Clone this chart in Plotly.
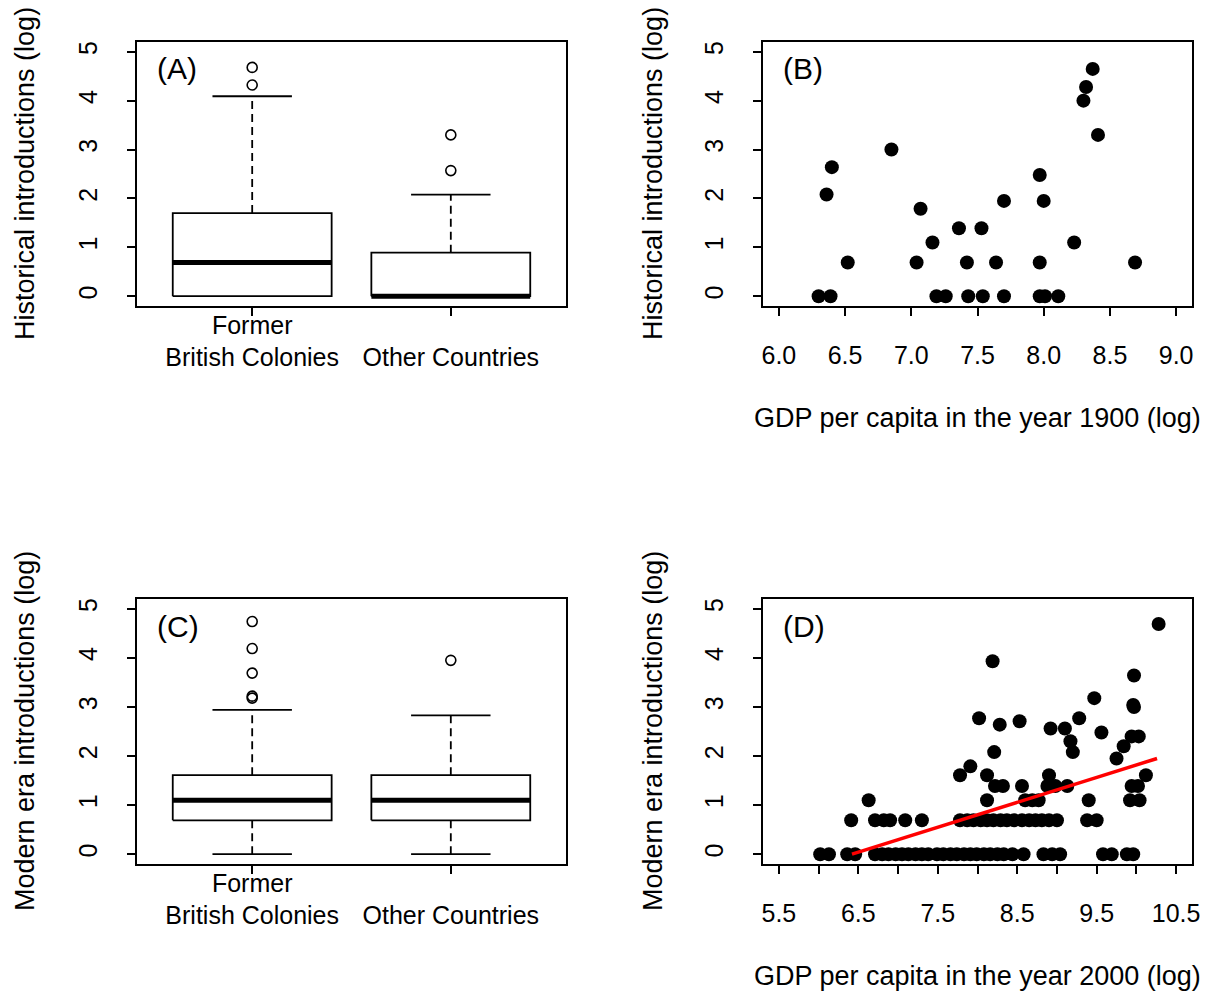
import plotly.graph_objects as go

FONT = "Arial, Liberation Sans, sans-serif"

# ---------------- data ----------------
categories = ["Former\nBritish Colonies", "Other Countries"]

# Panel A: historical introductions (log) boxplot stats
hist_lower = [0.0, 0.0]
hist_q1 = [0.0, 0.0]
hist_median = [0.69, 0.0]
hist_q3 = [1.70, 0.89]
hist_upper = [4.09, 2.08]
hist_outliers = [[4.32, 4.68], [2.57, 3.30]]

# Panel C: modern era introductions (log) boxplot stats
mod_lower = [0.0, 0.0]
mod_q1 = [0.69, 0.69]
mod_median = [1.10, 1.10]
mod_q3 = [1.61, 1.61]
mod_upper = [2.94, 2.83]
mod_outliers = [[3.18, 3.22, 3.69, 4.19, 4.74], [3.95]]

# Panel B: GDP 1900 vs historical introductions
gdp1900 = [6.30, 6.39, 6.36, 6.40, 6.52, 6.85, 7.04, 7.07, 7.16, 7.19, 7.26,
           7.36, 7.42, 7.43, 7.53, 7.54, 7.64, 7.70, 7.70, 7.97, 7.97, 7.97,
           8.00, 8.01, 8.11, 8.23, 8.30, 8.32, 8.37, 8.41, 8.69]
hist_intro = [0.0, 0.0, 2.08, 2.64, 0.69, 3.00, 0.69, 1.79, 1.10, 0.0, 0.0,
              1.39, 0.69, 0.0, 1.39, 0.0, 0.69, 1.95, 0.0, 2.48, 0.69, 0.0,
              1.95, 0.0, 0.0, 1.10, 4.00, 4.28, 4.65, 3.30, 0.69]

# Panel D: GDP 2000 vs modern era introductions
gdp2000 = [6.02, 6.13, 6.36, 6.46, 6.71, 6.80, 6.88, 6.97, 7.05, 7.13, 7.22,
           7.30, 7.38, 7.49, 7.57, 7.66, 7.74, 7.83, 7.91, 7.99, 8.08, 8.16,
           8.25, 8.33, 8.44, 8.58, 8.83, 8.94, 9.04, 9.58, 9.69, 9.88, 9.96,
           6.41, 6.71, 6.82, 6.90, 7.09, 7.30, 7.78, 7.87, 7.95, 8.04, 8.12,
           8.20, 8.29, 8.37, 8.46, 8.56, 8.65, 8.73, 8.81, 8.90, 9.00, 9.38,
           9.50,
           6.63, 8.12, 8.60, 8.69, 8.77, 9.40, 9.92, 10.04,
           8.22, 8.32, 8.56, 8.88, 8.98, 9.13, 9.94, 10.02,
           7.78, 8.12, 8.90, 10.12,
           7.91, 8.21, 9.20, 9.75, 9.84, 9.17, 9.94, 10.03, 9.56, 8.92, 9.10,
           8.28, 8.53, 8.02, 9.28, 9.97, 9.96, 9.47, 9.97, 8.19, 10.28]
modern_intro = [0.0] * 33 + [0.69] * 23 + [1.10] * 8 + [1.39] * 8 + [1.61] * 4 + \
    [1.79, 2.08, 2.08, 1.95, 2.20, 2.30, 2.40, 2.40, 2.48, 2.56, 2.56,
     2.64, 2.71, 2.77, 2.77, 3.00, 3.04, 3.18, 3.64, 3.93, 4.69]

fit_x = [6.42, 10.26]
fit_y = [0.0, 1.95]

y_ticks = [0, 1, 2, 3, 4, 5]
b_ticks = [6.0, 6.5, 7.0, 7.5, 8.0, 8.5, 9.0]
b_ticktext = ["6.0", "6.5", "7.0", "7.5", "8.0", "8.5", "9.0"]
d_ticks = [5.5, 6.0, 6.5, 7.0, 7.5, 8.0, 8.5, 9.0, 9.5, 10.0, 10.5]
d_ticktext = ["5.5", "", "6.5", "", "7.5", "", "8.5", "", "9.5", "", "10.5"]

panel_labels = ["(A)", "(B)", "(C)", "(D)"]
ytitle_top = "Historical introductions (log)"
ytitle_bottom = "Modern era introductions (log)"
xtitle_b = "GDP per capita in the year 1900 (log)"
xtitle_d = "GDP per capita in the year 2000 (log)"

# ---------------- figure ----------------
W, H = 1216, 991
fig = go.Figure()

BOX_HALF = 0.4
STAPLE_HALF = 0.2
LW = 1.8


def add_boxes(xa, ya, lower, q1, med, q3, upper, outliers):
    for i in range(len(q1)):
        c = i + 1
        # whiskers (dashed)
        for a, b in ((q3[i], upper[i]), (lower[i], q1[i])):
            if b != a:
                fig.add_trace(go.Scatter(x=[c, c], y=[a, b], mode="lines",
                                         line=dict(color="black", width=LW, dash="8px,5px"),
                                         xaxis=xa, yaxis=ya, showlegend=False, hoverinfo="skip"))
        # staples
        for v in (upper[i], lower[i]):
            fig.add_trace(go.Scatter(x=[c - STAPLE_HALF, c + STAPLE_HALF], y=[v, v], mode="lines",
                                     line=dict(color="black", width=LW),
                                     xaxis=xa, yaxis=ya, showlegend=False, hoverinfo="skip"))
        # box
        fig.add_trace(go.Scatter(x=[c - BOX_HALF, c + BOX_HALF, c + BOX_HALF, c - BOX_HALF, c - BOX_HALF],
                                 y=[q1[i], q1[i], q3[i], q3[i], q1[i]], mode="lines",
                                 fill="toself", fillcolor="white",
                                 line=dict(color="black", width=LW),
                                 xaxis=xa, yaxis=ya, showlegend=False, hoverinfo="skip"))
        # median
        fig.add_trace(go.Scatter(x=[c - BOX_HALF, c + BOX_HALF], y=[med[i], med[i]], mode="lines",
                                 line=dict(color="black", width=5),
                                 xaxis=xa, yaxis=ya, showlegend=False, hoverinfo="skip"))
        # outliers
        fig.add_trace(go.Scatter(x=[c] * len(outliers[i]), y=outliers[i], mode="markers",
                                 marker=dict(symbol="circle-open", size=10, color="black",
                                             line=dict(width=1.6, color="black")),
                                 xaxis=xa, yaxis=ya, showlegend=False, hoverinfo="skip"))


add_boxes("x", "y", hist_lower, hist_q1, hist_median, hist_q3, hist_upper, hist_outliers)
add_boxes("x3", "y3", mod_lower, mod_q1, mod_median, mod_q3, mod_upper, mod_outliers)

fig.add_trace(go.Scatter(x=gdp1900, y=hist_intro, mode="markers",
                         marker=dict(size=14, color="black"), xaxis="x2", yaxis="y2",
                         showlegend=False))
fig.add_trace(go.Scatter(x=gdp2000, y=modern_intro, mode="markers",
                         marker=dict(size=14, color="black"), xaxis="x4", yaxis="y4",
                         showlegend=False))
fig.add_trace(go.Scatter(x=fit_x, y=fit_y, mode="lines",
                         line=dict(color="#ff0000", width=3.5), xaxis="x4", yaxis="y4",
                         showlegend=False))


def px_x(p):
    return p / W


def px_y(p):
    return 1 - p / H


common = dict(showline=True, mirror=True, linecolor="black", linewidth=1.8,
              ticks="outside", ticklen=8, tickwidth=1.5, tickcolor="black",
              showgrid=False, zeroline=False, automargin=False,
              tickfont=dict(family=FONT, size=25, color="black"))

dom_left = [px_x(137), px_x(566)]
dom_right = [px_x(763), px_x(1192)]
dom_top = [px_y(306), px_y(42)]
dom_bot = [px_y(864), px_y(599)]

cat_text = [c.replace("\n", "<br>") for c in categories]
cat_text = [t if "<br>" in t else "<br>" + t for t in cat_text]

yax = dict(common, range=[-0.2, 5.2], tickvals=y_ticks, ticktext=[str(v) for v in y_ticks],
           tickangle=-90, ticklabelstandoff=20)

fig.update_layout(
    template="none",
    width=W, height=H, autosize=False, margin=dict(l=0, r=0, t=0, b=0, pad=0),
    paper_bgcolor="white", plot_bgcolor="white", showlegend=False,
    xaxis=dict(common, domain=dom_left, anchor="y", range=[0.42, 2.58],
               tickvals=[1, 2], ticktext=cat_text, ticklabelstandoff=-12),
    yaxis=dict(yax, domain=dom_top, anchor="x"),
    xaxis2=dict(common, domain=dom_right, anchor="y2", range=[5.88, 9.12],
                tickvals=b_ticks, ticktext=b_ticktext, ticklabelstandoff=18),
    yaxis2=dict(yax, domain=dom_top, anchor="x2"),
    xaxis3=dict(common, domain=dom_left, anchor="y3", range=[0.42, 2.58],
                tickvals=[1, 2], ticktext=cat_text, ticklabelstandoff=-12),
    yaxis3=dict(yax, domain=dom_bot, anchor="x3"),
    xaxis4=dict(common, domain=dom_right, anchor="y4", range=[5.3, 10.7],
                tickvals=d_ticks, ticktext=d_ticktext, ticklabelstandoff=18),
    yaxis4=dict(yax, domain=dom_bot, anchor="x4"),
)

ann = []
title_font = dict(family=FONT, size=27, color="black")
label_font = dict(family=FONT, size=30, color="black")
for lab, (lx, ly) in zip(panel_labels, [(155, 69), (781, 69), (155, 626), (781, 626)]):
    ann.append(dict(text=lab, x=px_x(lx), y=px_y(ly), xref="paper", yref="paper",
                    xanchor="left", yanchor="middle", showarrow=False, font=label_font))
for txt, (tx, ty) in [(ytitle_top, (25, 174)), (ytitle_top, (653, 174)),
                      (ytitle_bottom, (25, 731)), (ytitle_bottom, (653, 731))]:
    ann.append(dict(text=txt, x=px_x(tx), y=px_y(ty), xref="paper", yref="paper",
                    xanchor="center", yanchor="middle", textangle=-90, showarrow=False,
                    font=title_font))
for txt, (tx, ty) in [(xtitle_b, (977, 418)), (xtitle_d, (977, 976))]:
    ann.append(dict(text=txt, x=px_x(tx), y=px_y(ty), xref="paper", yref="paper",
                    xanchor="center", yanchor="middle", showarrow=False, font=title_font))
fig.update_layout(annotations=ann)

fig.write_html("out.html", config={"displayModeBar": False, "responsive": False},
               post_script="document.body.style.margin='0px';document.body.style.overflow='hidden';")
